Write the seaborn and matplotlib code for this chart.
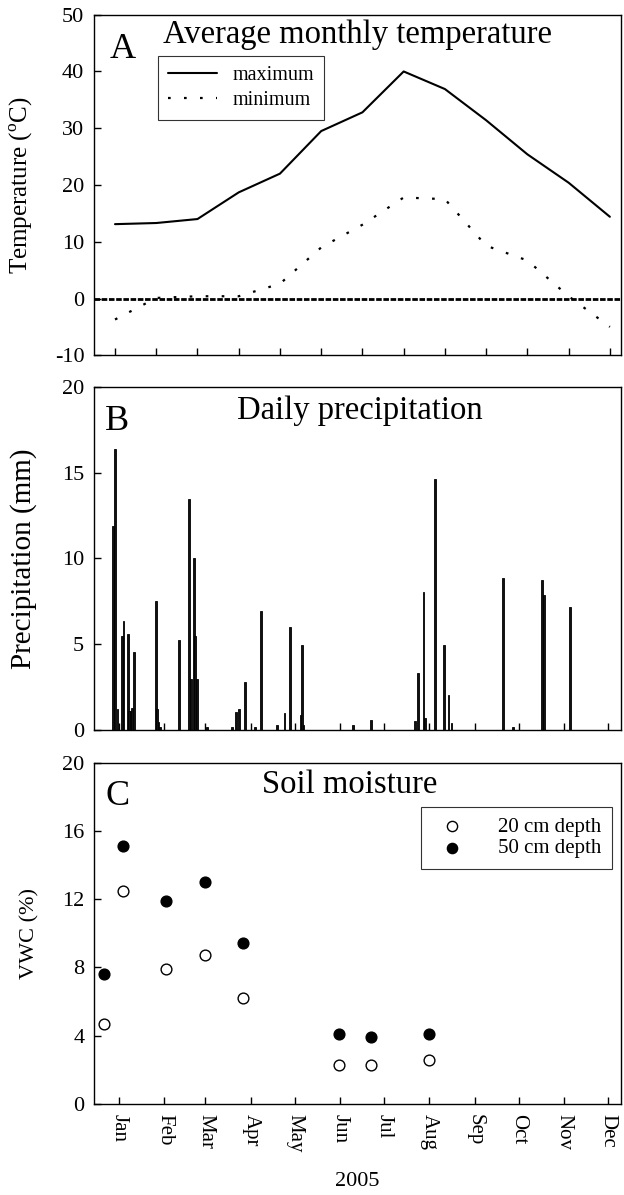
import matplotlib
matplotlib.use("Agg")
import matplotlib.pyplot as plt
import seaborn as sns

# ---- Panel A: average monthly temperature (13 monthly points) ----
temp_index = [1, 2, 3, 4, 5, 6, 7, 8, 9, 10, 11, 12, 13]
temp_max = [13.1, 13.3, 14.0, 18.7, 22.0, 29.5, 32.8, 40.0, 36.9, 31.4, 25.4, 20.4, 14.4]
temp_min = [-3.7, 0.1, 0.4, 0.4, 2.6, 9.0, 13.0, 17.8, 17.5, 9.3, 6.7, 0.4, -5.0]

# ---- Panel B: daily precipitation (day of year 2005, mm) ----
precip_day = [-3, -2, 0, 3, 4, 7, 8, 9, 10, 11, 26, 27, 28, 29, 42, 49, 50, 52, 53, 54,
              61, 78, 81, 83, 87, 94, 98, 109, 114, 118, 125, 126, 127, 161, 173,
              203, 205, 209, 210, 217, 223, 226, 228, 263, 270, 290, 291, 309]
precip_mm = [11.9, 16.35, 1.2, 5.45, 6.35, 5.6, 1.1, 1.1, 1.3, 4.55, 7.5, 1.2, 0.45, 0.2,
             5.25, 13.45, 3.0, 10.0, 5.45, 3.0, 0.2, 0.2, 1.05, 1.2, 2.8, 0.2, 6.95,
             0.3, 1.0, 6.0, 0.9, 4.95, 0.3, 0.3, 0.6, 0.5, 3.3, 8.05, 0.7, 14.6, 4.95,
             2.05, 0.4, 8.85, 0.2, 8.75, 7.85, 7.15]

# ---- Panel C: soil moisture (VWC %) ----
soil_day = [-9, 4, 33, 60, 86, 151, 173, 213]
vwc_20cm = [4.7, 12.5, 7.9, 8.75, 6.2, 2.3, 2.3, 2.55]
vwc_50cm = [7.6, 15.1, 11.9, 13.0, 9.45, 4.1, 3.9, 4.1]

month_start = [1, 32, 60, 91, 121, 152, 182, 213, 244, 274, 305, 335]
month_labels = ["Jan", "Feb", "Mar", "Apr", "May", "Jun",
                "Jul", "Aug", "Sep", "Oct", "Nov", "Dec"]

sns.set_theme(style="white")
plt.rcParams["font.family"] = ["Liberation Serif", "DejaVu Serif"]
plt.rcParams["mathtext.fontset"] = "custom"
plt.rcParams["mathtext.rm"] = "Liberation Serif"
plt.rcParams["axes.unicode_minus"] = False
plt.rcParams["text.color"] = "black"
plt.rcParams["axes.labelcolor"] = "black"

fig = plt.figure(figsize=(6.24, 11.95), dpi=100)
left, width = 0.1506, 0.8446
ax_a = fig.add_axes([left, 0.7027, width, 0.2850])
ax_b = fig.add_axes([left, 0.3891, width, 0.2873])
ax_c = fig.add_axes([left, 0.0762, width, 0.2856])


def style_axes(ax):
    for sp in ax.spines.values():
        sp.set_color("black")
        sp.set_linewidth(1.0)
    ax.tick_params(axis="both", direction="in", length=5, width=1.0,
                   colors="black", labelsize=16, pad=7,
                   bottom=True, left=True, top=False, right=False)


# ---------- Panel A ----------
style_axes(ax_a)
ax_a.axhline(0, color="black", lw=2.0, linestyle=(0, (2.0, 0.6)))
sns.lineplot(x=temp_index, y=temp_max, ax=ax_a, color="black", lw=1.5,
             label="maximum", sort=False)
sns.lineplot(x=temp_index, y=temp_min, ax=ax_a, color="black", lw=1.6,
             linestyle=(0, (1.2, 6)), label="minimum", sort=False)
ax_a.set_xlim(0.49, 13.27)
ax_a.set_ylim(-10, 50)
ax_a.set_xticks(temp_index)
ax_a.set_xticklabels([])
ax_a.set_yticks(range(-10, 51, 10))
ax_a.set_ylabel("Temperature ($^{\\rm o}$C)", fontsize=18)
ax_a.yaxis.set_label_coords(-0.112, 0.5)
ax_a.text(0.03, 0.873, "A", transform=ax_a.transAxes, fontsize=26, va="baseline")
ax_a.text(0.5, 0.916, "Average monthly temperature", transform=ax_a.transAxes,
          fontsize=23.5, ha="center", va="baseline")
leg = ax_a.legend(loc="upper left", bbox_to_anchor=(0.122, 0.88), fontsize=14.5,
                  frameon=True, fancybox=False, handlelength=2.4, handletextpad=0.8,
                  labelspacing=0.3, borderpad=0.5, borderaxespad=0)
leg.get_frame().set_edgecolor("black")
leg.get_frame().set_linewidth(0.8)

# ---------- Panel B ----------
style_axes(ax_b)
ax_b.bar(precip_day, precip_mm, width=1.2, color="#111111", edgecolor="black",
         linewidth=0.6)
ax_b.set_xlim(-16.1, 343.8)
ax_b.set_ylim(0, 20)
ax_b.set_xticks(month_start)
ax_b.set_xticklabels([])
ax_b.set_yticks([0, 5, 10, 15, 20])
ax_b.set_ylabel("Precipitation (mm)", fontsize=21)
ax_b.yaxis.set_label_coords(-0.108, 0.5)
ax_b.text(0.021, 0.874, "B", transform=ax_b.transAxes, fontsize=26, va="baseline")
ax_b.text(0.505, 0.907, "Daily precipitation", transform=ax_b.transAxes,
          fontsize=23.5, ha="center", va="baseline")

# ---------- Panel C ----------
style_axes(ax_c)
sns.scatterplot(x=soil_day, y=vwc_20cm, ax=ax_c, marker="o", s=60,
                facecolor="white", edgecolor="black", linewidth=1.0,
                label="20 cm depth")
sns.scatterplot(x=soil_day, y=vwc_50cm, ax=ax_c, marker="o", s=60,
                color="black", edgecolor="black", linewidth=1.0,
                label="50 cm depth")
ax_c.set_xlim(-16.1, 343.8)
ax_c.set_ylim(0, 20)
ax_c.set_xticks(month_start)
ax_c.set_xticklabels(month_labels, rotation=-90, fontsize=15)
ax_c.set_yticks([0, 4, 8, 12, 16, 20])
ax_c.set_ylabel("VWC (%)", fontsize=16)
ax_c.yaxis.set_label_coords(-0.103, 0.5)
ax_c.set_xlabel("2005", fontsize=16, labelpad=14)
ax_c.text(0.021, 0.876, "C", transform=ax_c.transAxes, fontsize=26, va="baseline")
ax_c.text(0.485, 0.91, "Soil moisture", transform=ax_c.transAxes,
          fontsize=23.5, ha="center", va="baseline")
leg_c = ax_c.legend(loc="upper right", bbox_to_anchor=(0.982, 0.871), fontsize=15,
                    frameon=True, fancybox=False, handletextpad=1.2,
                    labelspacing=0.1, borderpad=0.5, borderaxespad=0,
                    markerscale=0.95)
leg_c.get_frame().set_edgecolor("black")
leg_c.get_frame().set_linewidth(0.8)

fig.savefig("out.png", dpi=100)
